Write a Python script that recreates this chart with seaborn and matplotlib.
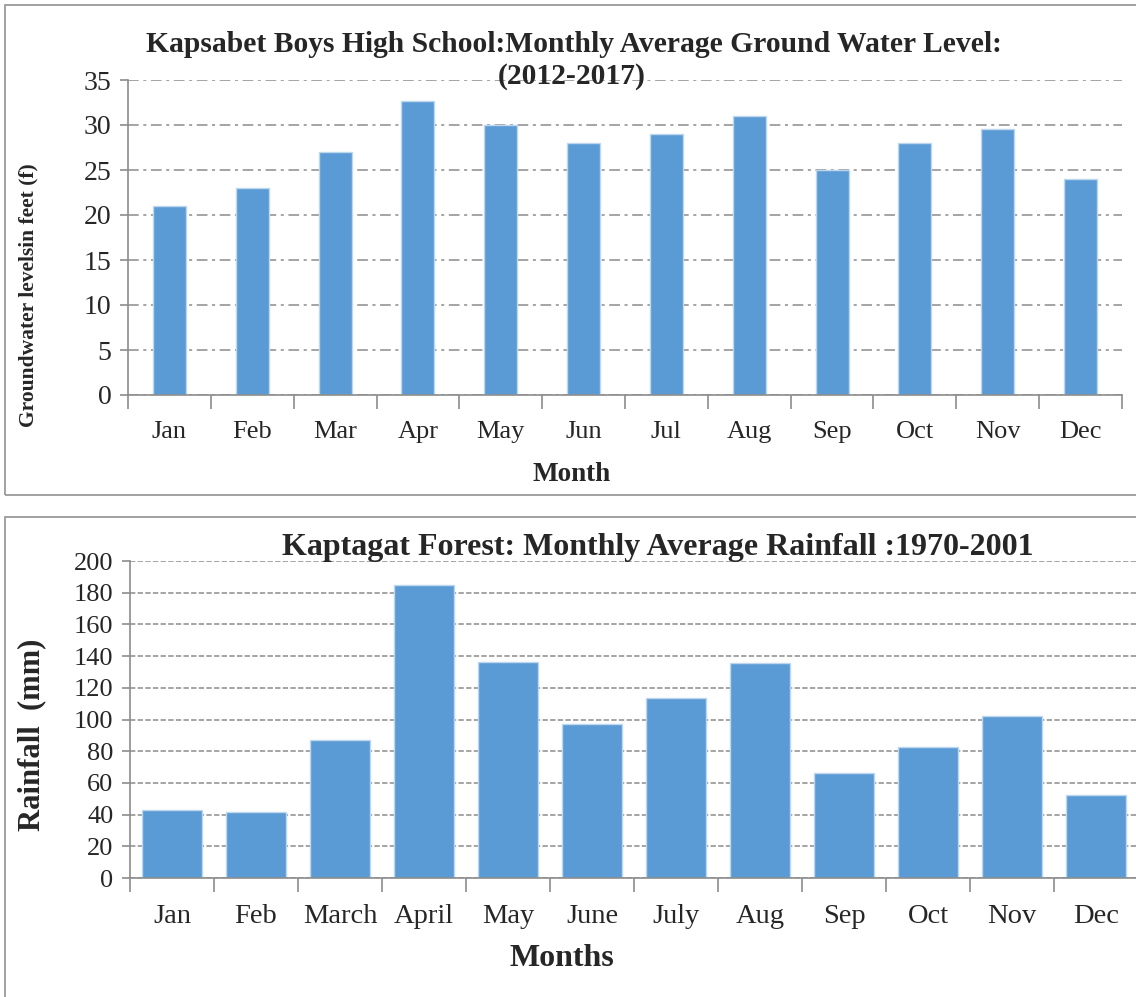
import seaborn as sns
import matplotlib.pyplot as plt
import pandas as pd
from matplotlib.patches import Rectangle

# data
months_gw = ["Jan", "Feb", "Mar", "Apr", "May", "Jun", "Jul", "Aug", "Sep", "Oct", "Nov", "Dec"]
gw_level = [21, 23, 27, 32.7, 30, 28, 29, 31, 25, 28, 29.5, 24]

months_rain = ["Jan", "Feb", "March", "April", "May", "June", "July", "Aug", "Sep", "Oct", "Nov", "Dec"]
rainfall = [43.2, 41.5, 87.3, 185, 136.5, 97.2, 113.7, 135.6, 66.2, 82.4, 102, 52.6]

sns.set_theme(style="white")
plt.rcParams["font.family"] = ["Liberation Serif", "DejaVu Serif"]

W, H = 1136, 997
fig = plt.figure(figsize=(W / 100, H / 100), dpi=100)

BAR = "#5B9BD5"
EDGE = "#BDD7EE"
GRID = "#8C8C8C"


def px_axes(x0, y_top, x1, y_bot):
    return fig.add_axes([x0 / W, 1 - y_bot / H, (x1 - x0) / W, (y_bot - y_top) / H])


def style_axes(ax, ls, xsize, ysize):
    for s in ["top", "right"]:
        ax.spines[s].set_visible(False)
    ax.spines["left"].set_color(GRID)
    ax.spines["bottom"].set_color(GRID)
    ax.spines["left"].set_linewidth(1.2)
    ax.spines["bottom"].set_linewidth(1.2)
    ax.yaxis.grid(True, color=GRID, linestyle=ls, linewidth=1.1)
    ax.set_axisbelow(True)
    ax.tick_params(axis="y", left=True, length=6, color=GRID, width=1.2,
                   labelsize=ysize, pad=6)
    ax.tick_params(axis="x", bottom=False, labelsize=xsize, pad=13)
    # ticks between categories
    n = len(ax.get_xticks())
    ax.set_xticks([i - 0.5 for i in range(n + 1)], minor=True)
    ax.tick_params(axis="x", which="minor", bottom=True, length=10,
                   color=GRID, width=1.2)
    ax.set_xlim(-0.5, n - 0.5)
    ax.set_xlabel("")
    ax.set_ylabel("")


# panel borders
fig.patches.append(Rectangle((5 / W, 1 - 495 / H), 1.2, 490 / H, transform=fig.transFigure,
                             fill=False, edgecolor="#9A9A9A", linewidth=1.3))
fig.patches.append(Rectangle((5 / W, -0.1), 1.2, (0.1 + 1 - 517 / H), transform=fig.transFigure,
                             fill=False, edgecolor="#9A9A9A", linewidth=1.3))

# top chart
df_gw = pd.DataFrame({"Month": months_gw, "Level": gw_level})
ax1 = px_axes(128, 80, 1122, 395)
sns.barplot(data=df_gw, x="Month", y="Level", color=BAR, width=0.4,
            edgecolor=EDGE, linewidth=1, saturation=1, ax=ax1)
ax1.set_ylim(0, 35)
ax1.set_yticks(range(0, 36, 5))
style_axes(ax1, (0, (7, 3, 2, 3)), 19, 20)

fig.text(574 / W, 1 - 44 / H, "Kapsabet Boys High School:Monthly Average Ground Water Level:",
         ha="center", va="center", fontsize=21.3, fontweight="bold")
fig.text(572 / W, 1 - 77 / H, "(2012-2017)", ha="center", va="center",
         fontsize=21.3, fontweight="bold")
fig.text(28 / W, 1 - 295 / H, "Groundwater levelsin feet (f)",
         rotation=90, ha="center", va="center", fontsize=15.5, fontweight="bold")
fig.text(572 / W, 1 - 474 / H, "Month", ha="center", va="center",
         fontsize=19.5, fontweight="bold")

# bottom chart
df_rain = pd.DataFrame({"Month": months_rain, "Rainfall": rainfall})
ax2 = px_axes(130, 561, 1138, 878)
sns.barplot(data=df_rain, x="Month", y="Rainfall", color=BAR, width=0.72,
            edgecolor=EDGE, linewidth=1, saturation=1, ax=ax2)
ax2.set_ylim(0, 200)
ax2.set_yticks(range(0, 201, 20))
style_axes(ax2, (0, (3.5, 1.5)), 20.5, 19)

fig.text(658 / W, 1 - 547 / H, "Kaptagat Forest: Monthly Average Rainfall :1970-2001",
         ha="center", va="center", fontsize=23, fontweight="bold")
fig.text(32 / W, 1 - 735 / H, "Rainfall  (mm)", rotation=90,
         ha="center", va="center", fontsize=22, fontweight="bold")
fig.text(562 / W, 1 - 958 / H, "Months", ha="center", va="center",
         fontsize=23, fontweight="bold")

fig.savefig("out.png", dpi=100)
